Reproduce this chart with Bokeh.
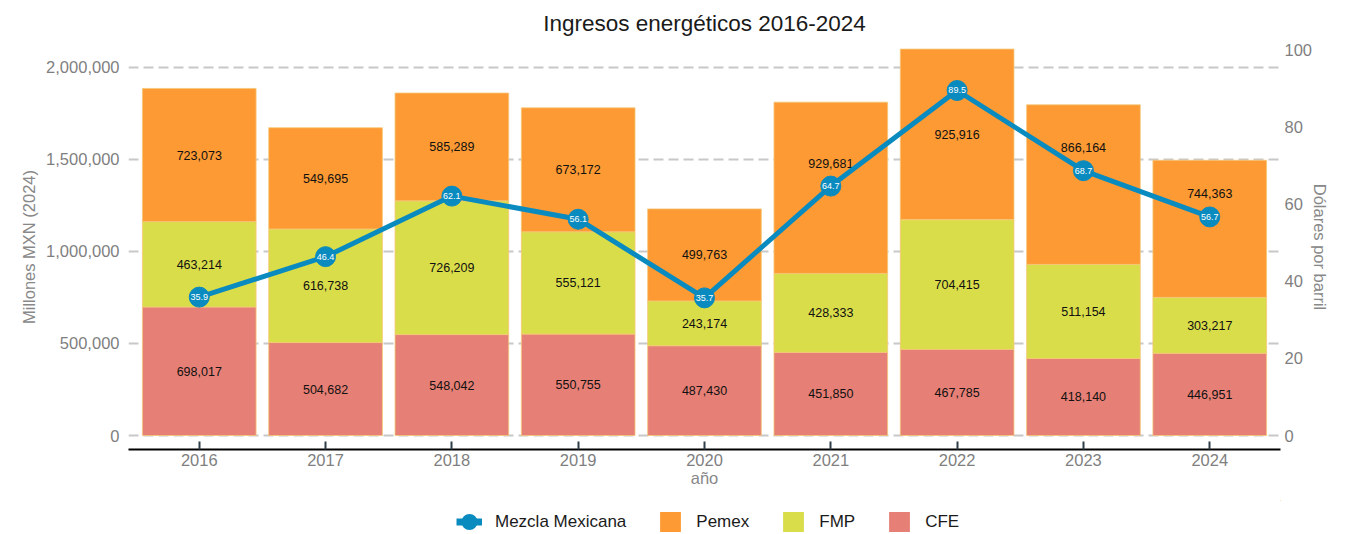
from bokeh.plotting import figure
from bokeh.layouts import column
from bokeh.models import (ColumnDataSource, Range1d, LinearAxis, FixedTicker,
                          NumeralTickFormatter, Legend, LegendItem)
from bokeh.core.properties import value
from bokeh.embed import file_html
from bokeh.resources import INLINE

# ---- data ----
years = [2016, 2017, 2018, 2019, 2020, 2021, 2022, 2023, 2024]
cfe = [698017, 504682, 548042, 550755, 487430, 451850, 467785, 418140, 446951]
fmp = [463214, 616738, 726209, 555121, 243174, 428333, 704415, 511154, 303217]
pemex = [723073, 549695, 585289, 673172, 499763, 929681, 925916, 866164, 744363]
mezcla = [35.9, 46.4, 62.1, 56.1, 35.7, 64.7, 89.5, 68.7, 56.7]
left_ticks = [0, 500000, 1000000, 1500000, 2000000]
right_ticks = [0, 20, 40, 60, 80, 100]
series_names = ["CFE", "FMP", "Pemex"]

FONT = "Liberation Sans"
C_CFE, C_FMP, C_PEMEX = "#E67F75", "#DADD4A", "#FD9A33"
C_LINE = "#0A8BBF"
GREY = "#7f7f7f"

W, H = 1360, 500
B_TOP, B_BOTTOM = 44, 51
L0, L1 = -76000, 2123000
R0, R1 = -3.63, 101.43

src = ColumnDataSource(dict(year=years, CFE=cfe, FMP=fmp, Pemex=pemex))

p = figure(width=W, height=H, output_backend="svg", toolbar_location=None,
           x_range=Range1d(2015.44, 2024.56), y_range=Range1d(L0, L1),
           min_border_left=128, min_border_right=80, min_border_top=B_TOP,
           min_border_bottom=B_BOTTOM, title="Ingresos energéticos 2016-2024")
p.extra_y_ranges = {"right": Range1d(R0, R1)}
p.outline_line_color = None
p.background_fill_color = "white"
p.border_fill_color = "white"

# title
p.title.align = "center"
p.title.text_font = FONT
p.title.text_font_size = "22.5px"
p.title.text_font_style = "normal"
p.title.text_color = "#1a1a1a"
p.title.standoff = 17

# stacked bars
bars = p.vbar_stack(series_names, x="year", width=0.9, source=src,
                    fill_color=[C_CFE, C_FMP, C_PEMEX], line_color="#F5C878",
                    line_width=0.8)

# segment labels at segment middles, nudged above the price marker on collision
units_per_px = (L1 - L0) / (H - B_TOP - B_BOTTOM)
marker_left = [L0 + (m - R0) / (R1 - R0) * (L1 - L0) for m in mezcla]


def avoid(mids):
    out = []
    for y, my in zip(mids, marker_left):
        if abs(y - my) < 19 * units_per_px:
            y = my + 23 * units_per_px
        out.append(y)
    return out


mid_cfe = avoid([c / 2 for c in cfe])
mid_fmp = avoid([c + f / 2 for c, f in zip(cfe, fmp)])
mid_pem = avoid([c + f + pm / 2 for c, f, pm in zip(cfe, fmp, pemex)])
for vals, mids in ((cfe, mid_cfe), (fmp, mid_fmp), (pemex, mid_pem)):
    p.text(x=years, y=mids, text=[f"{v:,}" for v in vals], text_align="center",
           text_baseline="middle", text_font=value(FONT),
           text_font_size="12.5px", text_color="#111111")

# line on right axis
line_r = p.line(years, mezcla, y_range_name="right", line_width=5, line_color=C_LINE)
circ_r = p.scatter(years, mezcla, y_range_name="right", size=20, marker="circle",
                   fill_color=C_LINE, line_color=C_LINE)
p.text(x=years, y=mezcla, y_range_name="right", text=[f"{v:.1f}" for v in mezcla],
       text_align="center", text_baseline="middle", text_font=value(FONT),
       text_font_size="9px", text_color="white")

# axes
ya = p.yaxis[0]
ya.ticker = FixedTicker(ticks=left_ticks)
ya.formatter = NumeralTickFormatter(format="0,0")
ya.axis_label = "Millones MXN (2024)"
ya.major_label_standoff = 9
ya.axis_label_standoff = 5

ra = LinearAxis(y_range_name="right", ticker=FixedTicker(ticks=right_ticks),
                axis_label="Dólares por barril")
ra.major_label_standoff = 4
ra.axis_label_standoff = -4
p.add_layout(ra, "right")

for ax in (ya, ra):
    ax.axis_line_color = None
    ax.major_tick_line_color = None
    ax.minor_tick_line_color = None
    ax.major_tick_in = 0
    ax.major_tick_out = 0
    ax.minor_tick_in = 0
    ax.minor_tick_out = 0

xa = p.xaxis[0]
xa.ticker = FixedTicker(ticks=years)
xa.axis_label = "año"
xa.axis_line_color = "black"
xa.axis_line_width = 2
xa.major_tick_in = 8
xa.major_tick_out = 0
xa.major_tick_line_color = "#2F3F4A"
xa.major_tick_line_width = 2
xa.minor_tick_line_color = None
xa.major_label_standoff = 4
xa.axis_label_standoff = 0

for ax in (ya, ra, xa):
    ax.major_label_text_font = FONT
    ax.major_label_text_font_size = "16.5px"
    ax.major_label_text_color = GREY
    ax.axis_label_text_font = FONT
    ax.axis_label_text_font_size = "16.5px"
    ax.axis_label_text_font_style = "normal"
    ax.axis_label_text_color = "#888888"

# grid
p.xgrid.visible = False
p.ygrid.ticker = FixedTicker(ticks=left_ticks)
p.ygrid.grid_line_color = "#C8C8C8"
p.ygrid.grid_line_dash = "10 5"
p.ygrid.grid_line_width = 1.8

# ---- legend strip below the chart ----
# key proxies sit outside the strip's visible range; only the legend shows them
lg = figure(width=W, height=34, output_backend="svg", toolbar_location=None,
            x_range=Range1d(0, 1), y_range=Range1d(0, 1),
            x_axis_location=None, y_axis_location=None,
            min_border_left=0, min_border_right=0, min_border_top=0,
            min_border_bottom=0)
lg.outline_line_color = None
lg.grid.visible = False
off = [5, 6]
k_line = lg.line(off, off, line_width=7, line_color=C_LINE)
k_circ = lg.scatter(off, off, marker="circle", size=10, fill_color=C_LINE,
                    line_color=C_LINE, line_width=6)
k_pem = lg.vbar(x=off, top=off, bottom=off, width=1, fill_color=C_PEMEX, line_color=None)
k_fmp = lg.vbar(x=off, top=off, bottom=off, width=1, fill_color=C_FMP, line_color=None)
k_cfe = lg.vbar(x=off, top=off, bottom=off, width=1, fill_color=C_CFE, line_color=None)

legend = Legend(items=[
    LegendItem(label="Mezcla Mexicana", renderers=[k_line, k_circ]),
    LegendItem(label="Pemex", renderers=[k_pem]),
    LegendItem(label="FMP", renderers=[k_fmp]),
    LegendItem(label="CFE", renderers=[k_cfe]),
], orientation="horizontal", location=(328, 0), glyph_width=26, glyph_height=25,
    label_standoff=13, spacing=31, label_text_font=FONT,
    label_text_font_size="17px", label_text_color="#1a1a1a",
    border_line_color=None, background_fill_alpha=0, padding=0, margin=0)
lg.add_layout(legend, "center")

layout = column(p, lg, spacing=0)
open("out.html", "w").write(file_html(layout, INLINE))
